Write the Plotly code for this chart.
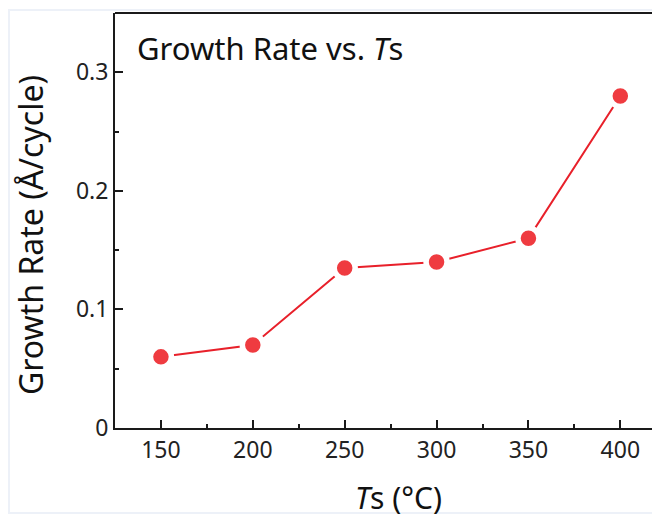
import plotly.graph_objects as go

# Data
temps = [150, 200, 250, 300, 350, 400]
growth_rate = [0.06, 0.07, 0.135, 0.14, 0.16, 0.28]
x_ticks = [150, 200, 250, 300, 350, 400]
y_ticks = [0, 0.1, 0.2, 0.3]
y_tick_labels = ["0", "0.1", "0.2", "0.3"]

FONT = "Noto Sans"
OFF = 8  # page body margin
W, H = 660 - OFF, 517 - OFF
L, T, R, B = 115 - OFF, 13 - OFF, 0, 517 - 428
pw, ph = W - L - R, H - T - B


def px2paper(px, py):
    """page pixel coords -> paper coords"""
    fx, fy = px - OFF, py - OFF
    return (fx - L) / pw, (H - B - fy) / ph


fig = go.Figure()
fig.add_trace(go.Scatter(
    x=temps, y=growth_rate, mode="lines+markers",
    line=dict(color="#e8202a", width=2),
    marker=dict(size=21, color="#ef3b40", line=dict(color="white", width=5.5)),
    showlegend=False, hoverinfo="x+y",
))

axis_common = dict(
    showline=True, linecolor="#1a1a1a", linewidth=2,
    ticks="inside", ticklen=8, tickwidth=1.5, tickcolor="#1a1a1a",
    showgrid=False, zeroline=False,
    tickfont=dict(family=FONT, size=23, color="#222"),
)

fig.update_xaxes(
    range=[125, 421.6], tickvals=x_ticks,
    minor=dict(ticks="inside", ticklen=4, tickwidth=1.5, tickcolor="#1a1a1a", dtick=25, tick0=125),
    ticklabelstandoff=0,
    **axis_common,
)
fig.update_yaxes(
    range=[0, 0.35], tickvals=y_ticks, ticktext=y_tick_labels,
    minor=dict(ticks="inside", ticklen=4, tickwidth=1.5, tickcolor="#1a1a1a", dtick=0.05, tick0=0),
    ticklabelstandoff=0,
    **axis_common,
)

# top border line
fig.add_shape(type="line", xref="paper", yref="paper", x0=0, x1=1.02, y0=1, y1=1,
              line=dict(color="#1a1a1a", width=2))

# faint outer frame
fx0, fy0 = px2paper(OFF + 1, 513)
fx1, fy1 = px2paper(760, 10)
fig.add_shape(type="rect", xref="paper", yref="paper", x0=fx0, x1=fx1, y0=fy0, y1=fy1,
              line=dict(color="#edf1f8", width=2), layer="below")

tx, ty = px2paper(135, 48)
fig.add_annotation(text="Growth Rate vs. <i>T</i>s", xref="paper", yref="paper",
                   x=tx, y=ty, xanchor="left", yanchor="middle", showarrow=False,
                   font=dict(family=FONT, size=31, color="#111"))

xx, xy = px2paper(398, 497)
fig.add_annotation(text="<i>T</i>s (°C)", xref="paper", yref="paper",
                   x=xx, y=xy, xanchor="center", yanchor="middle", showarrow=False,
                   font=dict(family=FONT, size=30, color="#111"))

yx, yy = px2paper(30, 235)
fig.add_annotation(text="Growth Rate (Å/cycle)", xref="paper", yref="paper",
                   x=yx, y=yy, xanchor="center", yanchor="middle", showarrow=False,
                   textangle=-90,
                   font=dict(family=FONT, size=32, color="#111"))

fig.update_layout(
    width=W, height=H,
    margin=dict(l=L, r=R, t=T, b=B, pad=0),
    paper_bgcolor="white", plot_bgcolor="white",
)

fig.write_html("out.html")
